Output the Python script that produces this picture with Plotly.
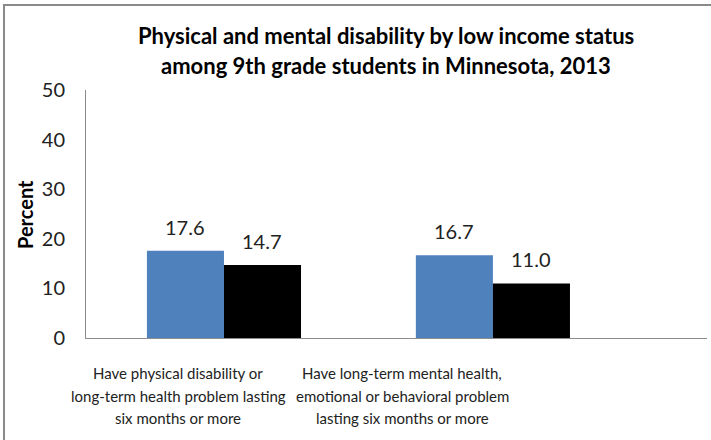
import plotly.graph_objects as go

title_lines = ["Physical and mental disability by low income status",
               "among 9th grade students in Minnesota, 2013"]
categories = ["Have physical disability or<br>long-term health problem lasting<br>six months or more",
              "Have long-term mental health,<br>emotional or behavioral problem<br>lasting six months or more"]
cat_keys = ["physical", "mental"]
series_names = ["Low income", "Not low income"]
series_values = [[17.6, 16.7], [14.7, 11.0]]
series_colors = ["#4F81BD", "#000000"]
y_title = "Percent"
y_ticks = [0, 10, 20, 30, 40, 50]

FONT = "Lato"
W, H = 711, 440
L, R, T, B = 86, 4, 90, 102
pw, ph = W - L - R, H - T - B


def px_x(px):
    return (px - L) / pw


def px_y(py):
    return (H - B - py) / ph


fig = go.Figure()
for name, vals, col in zip(series_names, series_values, series_colors):
    fig.add_trace(go.Bar(x=cat_keys, y=vals, name=name, marker=dict(color=col, line=dict(width=0)),
                         hoverinfo="skip"))

annotations = []
# value labels
for si, vals in enumerate(series_values):
    shift = -38.5 if si == 0 else 38.5
    for k, v in zip(cat_keys, vals):
        annotations.append(dict(x=k, y=v, xref="x", yref="y", text=f"{v:.1f}", showarrow=False,
                                xshift=shift, yshift=24, yanchor="middle",
                                font=dict(family=FONT, size=20, color="#222")))
# category labels, one annotation per line
cat_px = [178, 402]
line_py = [373, 396, 418]
for cx, lab in zip(cat_px, categories):
    for ly, line in zip(line_py, lab.split("<br>")):
        annotations.append(dict(x=px_x(cx), y=px_y(ly), xref="paper", yref="paper",
                                text=line, showarrow=False, xanchor="center", yanchor="middle",
                                font=dict(family=FONT, size=15, color="#222")))
# title lines
for ty, line in zip([35, 65], title_lines):
    annotations.append(dict(x=px_x(386), y=px_y(ty), xref="paper", yref="paper", text=f"<b>{line}</b>",
                            showarrow=False, xanchor="center", yanchor="middle",
                            font=dict(family=FONT, size=22, color="#000")))
# y axis title
annotations.append(dict(x=px_x(25), y=0.5, xref="paper", yref="paper", text=f"<b>{y_title}</b>",
                        showarrow=False, textangle=-90, xanchor="center", yanchor="middle",
                        font=dict(family=FONT, size=20, color="#000")))

fig.update_layout(
    width=W, height=H, autosize=False,
    margin=dict(l=L, r=R, t=T, b=B),
    paper_bgcolor="white", plot_bgcolor="white",
    barmode="group", bargap=0.427, bargroupgap=0,
    showlegend=False,
    annotations=annotations,
    xaxis=dict(type="category", range=[-0.513, 1.796], showticklabels=False, ticks="",
               showline=True, linecolor="#8c8c8c", linewidth=1, showgrid=False, zeroline=False),
    yaxis=dict(range=[0, 50], tickvals=y_ticks, showgrid=False, zeroline=False, showline=True,
               linecolor="#8c8c8c", linewidth=1, ticks="", ticklabelstandoff=16,
               tickfont=dict(family=FONT, size=20, color="#222")),
    shapes=[dict(type="rect", xref="paper", yref="paper",
                 x0=px_x(4), x1=px_x(730), y0=px_y(460), y1=px_y(5),
                 line=dict(color="#8a8a8a", width=2), fillcolor="rgba(0,0,0,0)", layer="below")],
)
fig.write_html("out.html", config={"displayModeBar": False},
               post_script="document.body.style.margin='0';document.body.style.overflow='hidden';")
